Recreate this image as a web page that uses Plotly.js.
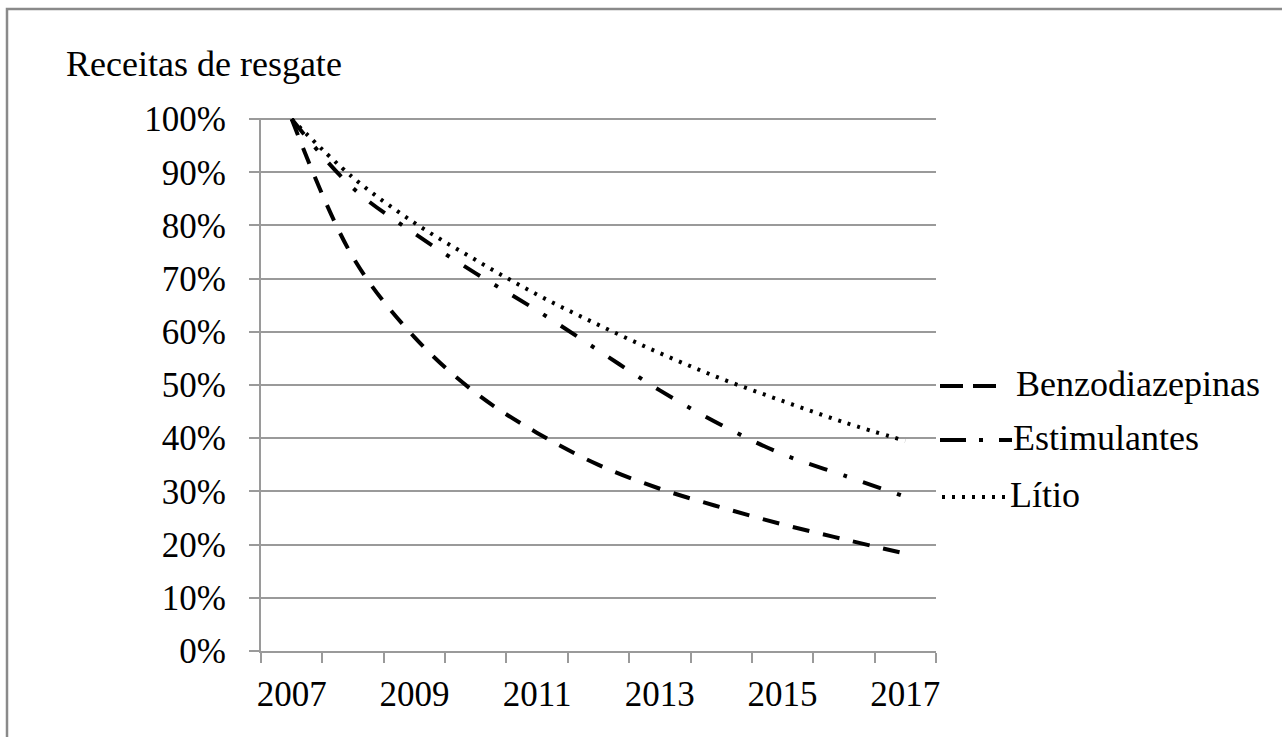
<!DOCTYPE html>
<html>
<head>
<meta charset="utf-8">
<script src="https://cdn.plot.ly/plotly-3.0.1.min.js"></script>
<style>
  html, body { margin: 0; padding: 0; background: #ffffff; }
  #chart { width: 1282px; height: 737px; }
</style>
</head>
<body>
<div id="chart"></div>
<script>
// Anos (categorias) e séries em percentagem do valor de 2007
const years = [2007, 2008, 2009, 2010, 2011, 2012, 2013, 2014, 2015, 2016, 2017];
const yearLabels = [2007, 2009, 2011, 2013, 2015, 2017];
const seriesNames = ['Benzodiazepinas', 'Estimulantes', 'Lítio'];
const benzodiazepinas = [100, 74, 59, 48.5, 41, 35, 30.5, 27, 23.8, 21, 18.3];
const estimulantes = [100, 87, 78.5, 71, 64, 56.5, 49, 42.5, 37, 33, 29];
const litio = [100, 89, 80.5, 73.5, 67, 61.3, 56, 51.2, 47, 43, 39.5];
const yTicks = [0, 10, 20, 30, 40, 50, 60, 70, 80, 90, 100];

const W = 1282, H = 737;
const M = { l: 261, r: 346, t: 118, b: 86 };
const plotW = W - M.l - M.r, plotH = H - M.t - M.b;
const px2x = px => (px - M.l) / plotW;
const px2y = py => (H - M.b - py) / plotH;

const FONT = 'Liberation Serif, Times New Roman, serif';
const GRID = '#9a9a9a';

const dashes = ['17px,14px', '19px,17px,4px,17px', '3px,7px'];
const seriesValues = [benzodiazepinas, estimulantes, litio];

const traces = seriesValues.map((vals, i) => ({
  type: 'scatter',
  mode: 'lines',
  x: years,
  y: vals,
  name: seriesNames[i],
  line: { color: '#000000', width: 4, dash: dashes[i], shape: 'spline', smoothing: 1 },
  hoverinfo: 'skip',
  showlegend: false
}));

// Legenda desenhada à direita da área do gráfico
const legendKeys = [
  { y: 386, x0: 940, x1: 1001, dash: '23px,10px', textX: 1014 },
  { y: 440, x0: 940, x1: 1012, dash: '26px,13px,4px,16px', textX: 1011 },
  { y: 497, x0: 942, x1: 1006, dash: '3px,7px', textX: 1008 }
];
const legendShapes = legendKeys.map(k => ({
  type: 'line', xref: 'paper', yref: 'paper',
  x0: px2x(k.x0), x1: px2x(k.x1), y0: px2y(k.y), y1: px2y(k.y),
  line: { color: '#000000', width: 4, dash: k.dash }
}));
const legendText = legendKeys.map((k, i) => ({
  xref: 'paper', yref: 'paper', x: px2x(k.textX), y: px2y(k.y - 2),
  xanchor: 'left', yanchor: 'middle', showarrow: false,
  text: seriesNames[i],
  font: { family: FONT, size: 36, color: '#000000' }
}));

const layout = {
  width: W, height: H,
  margin: M,
  paper_bgcolor: '#ffffff',
  plot_bgcolor: '#ffffff',
  showlegend: false,
  font: { family: FONT, size: 35, color: '#000000' },
  xaxis: {
    type: 'linear',
    range: [years[0] - 0.5, years[years.length - 1] + 0.5],
    tickmode: 'array',
    tickvals: yearLabels,
    ticktext: yearLabels.map(String),
    ticks: 'outside', ticklen: 11, tickcolor: 'rgba(0,0,0,0)',
    showgrid: false, zeroline: false,
    showline: true, linecolor: GRID, linewidth: 2,
    minor: {
      tickmode: 'linear', tick0: years[0] - 0.5, dtick: 1,
      ticks: 'outside', ticklen: 10, tickwidth: 2, tickcolor: GRID, showgrid: false
    },
    tickfont: { family: FONT, size: 35, color: '#000000' },
    fixedrange: true
  },
  yaxis: {
    range: [0, 100.2],
    tickmode: 'array',
    tickvals: yTicks,
    ticktext: yTicks.map(v => v + '%'),
    ticks: 'outside', ticklen: 10, tickwidth: 2, tickcolor: GRID,
    ticklabelstandoff: 16,
    showgrid: true, gridcolor: GRID, gridwidth: 2,
    zeroline: false,
    showline: true, linecolor: GRID, linewidth: 2,
    tickfont: { family: FONT, size: 35, color: '#000000' },
    fixedrange: true
  },
  shapes: [
    {
      type: 'rect', xref: 'paper', yref: 'paper',
      x0: px2x(7), x1: px2x(W + 20), y0: px2y(9), y1: px2y(H + 20),
      line: { color: '#8a8a8a', width: 2.5 }, fillcolor: 'rgba(0,0,0,0)'
    }
  ].concat(legendShapes),
  annotations: [
    {
      xref: 'paper', yref: 'paper', x: px2x(64), y: px2y(64),
      xanchor: 'left', yanchor: 'middle', showarrow: false,
      text: 'Receitas de resgate',
      font: { family: FONT, size: 36, color: '#000000' }
    }
  ].concat(legendText)
};

Plotly.newPlot('chart', traces, layout, { displayModeBar: false, staticPlot: true });
</script>
</body>
</html>
